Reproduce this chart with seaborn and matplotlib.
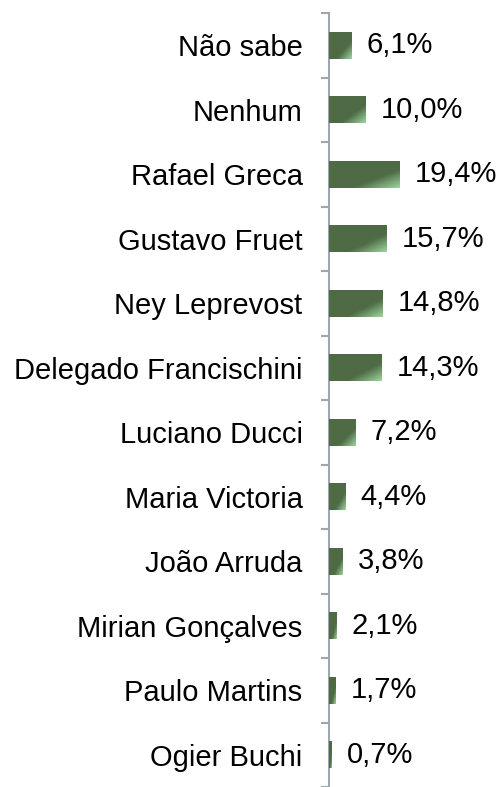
import numpy as np
import pandas as pd
import seaborn as sns
import matplotlib.pyplot as plt
from matplotlib.colors import LinearSegmentedColormap

candidates = ['Não sabe', 'Nenhum', 'Rafael Greca', 'Gustavo Fruet', 'Ney Leprevost',
              'Delegado Francischini', 'Luciano Ducci', 'Maria Victoria', 'João Arruda',
              'Mirian Gonçalves', 'Paulo Martins', 'Ogier Buchi']
percent = [6.1, 10.0, 19.4, 15.7, 14.8, 14.3, 7.2, 4.4, 3.8, 2.1, 1.7, 0.7]
labels = ['6,1%', '10,0%', '19,4%', '15,7%', '14,8%', '14,3%', '7,2%', '4,4%',
          '3,8%', '2,1%', '1,7%', '0,7%']

df = pd.DataFrame({'candidato': candidates, 'pct': percent})

sns.set_style('white')
plt.rcParams['font.family'] = ['Liberation Sans', 'DejaVu Sans']

fig = plt.figure(figsize=(5.02, 7.87), dpi=100)
ax = fig.add_axes([329 / 502, 0.0, 1 - 329 / 502, 1 - 13 / 787])

sns.barplot(data=df, x='pct', y='candidato', color='#4E6B45', width=0.42, ax=ax)

# gradient fill: dark green with lighter bottom-right corner
cmap = LinearSegmentedColormap.from_list('g', ['#4E6B45', '#4E6B45', '#9DD29C'])
u = np.linspace(0, 1, 60)
v = np.linspace(0, 1, 20)
U, V = np.meshgrid(u, v)
grad = np.clip((U * 0.6 + V * 0.6 - 0.4) / 0.8, 0, 1)
for p in ax.patches:
    x0, y0 = p.get_x(), p.get_y()
    w, h = p.get_width(), p.get_height()
    im = ax.imshow(grad, cmap=cmap, vmin=0, vmax=1, aspect='auto',
                   extent=(x0, x0 + w, y0 + h, y0), origin='upper', zorder=3)
    im.set_clip_path(p)

for i, (val, lab) in enumerate(zip(percent, labels)):
    ax.annotate(lab, (val, i), xytext=(11, 0), textcoords='offset points',
                va='center', ha='left', fontsize=21, color='black')

ax.set_xlim(0, 47.5)
ax.set_ylim(len(candidates) - 0.5, -0.5)
ax.set_xlabel('')
ax.set_ylabel('')
ax.set_xticks([])

for s in ['top', 'right', 'bottom']:
    ax.spines[s].set_visible(False)
ax.spines['left'].set_color('#A0A6AE')
ax.spines['left'].set_linewidth(1.5)

ax.set_yticks(np.arange(len(candidates)))
ax.set_yticklabels(candidates, fontsize=21, color='black')
ax.set_yticks(np.arange(len(candidates) + 1) - 0.5, minor=True)
ax.tick_params(axis='y', which='major', length=0, pad=19)
ax.tick_params(axis='y', which='minor', length=6, width=1.5, color='#A0A6AE', left=True)

fig.savefig('out.png', dpi=100)
